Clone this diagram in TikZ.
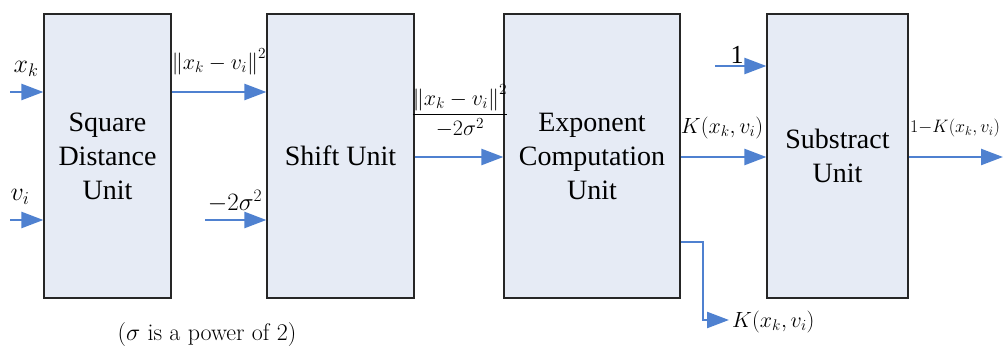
\RequirePackage{fix-cm}
\documentclass[tikz,border=0pt]{standalone}
\usepackage{amsmath}
\usepackage{fontspec}
\newfontfamily\tms{Liberation Serif}
\usetikzlibrary{arrows.meta}
\definecolor{boxfill}{HTML}{E6EBF5}
\definecolor{arrowblue}{HTML}{4F81D0}
\tikzset{
  unit/.style={draw=black!85, line width=1.2pt, fill=boxfill, minimum width=127pt, minimum height=284pt, inner sep=0pt, align=center, font=\tms\fontsize{28}{34}\selectfont},
  flow/.style={draw=arrowblue, line width=2.4pt, -{Triangle[length=22pt,width=16pt]}},
  lbl/.style={inner sep=0pt, font=\tms\fontsize{26}{30}\selectfont},
  slbl/.style={inner sep=0pt, font=\tms\fontsize{22}{26}\selectfont}
}
\begin{document}
\begin{tikzpicture}[x=1pt,y=-1pt]
\useasboundingbox (0,0) rectangle (1003,352);
\clip (0,0) rectangle (1003,352);
% boxes
\node[unit] (sq) at (107.5,156) {Square\\Distance\\Unit};
\node[unit, minimum width=147pt] (sh) at (340.5,156) {Shift Unit};
\node[unit, minimum width=176pt] (ex) at (592,156) {Exponent\\Computation\\Unit};
\node[unit, minimum width=141pt] (su) at (837.5,156) {Substract\\Unit};
% input coordinates
\coordinate (xin) at (10,92);
\coordinate (vin) at (10,220);
\coordinate (sin) at (205,220);
\coordinate (oin) at (715,66);
\coordinate (out) at (1003,157);
\coordinate (bend1) at (703,242);
\coordinate (bend2) at (703,320);
\coordinate (kend) at (729,320);
% arrows
\draw[flow] (xin) -- (xin -| sq.west);
\draw[flow] (vin) -- (vin -| sq.west);
\draw[flow] (sq.east |- xin) -- (sh.west |- xin);
\draw[flow] (sin) -- (sin -| sh.west);
\draw[flow] (sh.east |- 0,157) -- (ex.west |- 0,157);
\draw[flow] (ex.east |- 0,157) -- (su.west |- 0,157);
\draw[flow] (oin) -- (oin -| su.west);
\draw[flow] (su.east |- 0,157) -- (out);
\draw[flow] (ex.east |- bend1) -- (bend1) -- (bend2) -- (kend);
% labels
\node[lbl] (lxk) at (26,69) {$x_k$};
\node[lbl] (lvi) at (20,197) {$v_i$};
\node[slbl] (lnorm) at (219,62) {$\left\| x_k - v_i \right\|^2$};
\node[slbl, font=\tms\fontsize{25}{28}\selectfont] (lsig) at (235,201) {$-2\sigma^2$};
\node[slbl] (lfrac) at (460,111) {$\dfrac{\left\| x_k - v_i \right\|^2}{-2\sigma^2}$};
\node[slbl] (lk1) at (722,128) {$K(x_k,v_i)$};
\node[lbl] (lone) at (737,55) {1};
\node[slbl, anchor=west, font=\tms\fontsize{18}{22}\selectfont] (lout) at (910,128) {$1{-}K(x_k,v_i)$};
\node[slbl, anchor=west] (lk2) at (732,322) {$K(x_k,v_i)$};
\node[lbl, font=\rmfamily\fontsize{24}{28}\selectfont] (cap) at (207,335) {(${\fontsize{30}{30}\selectfont\sigma}$ is a power of 2)};
\end{tikzpicture}
\end{document}
